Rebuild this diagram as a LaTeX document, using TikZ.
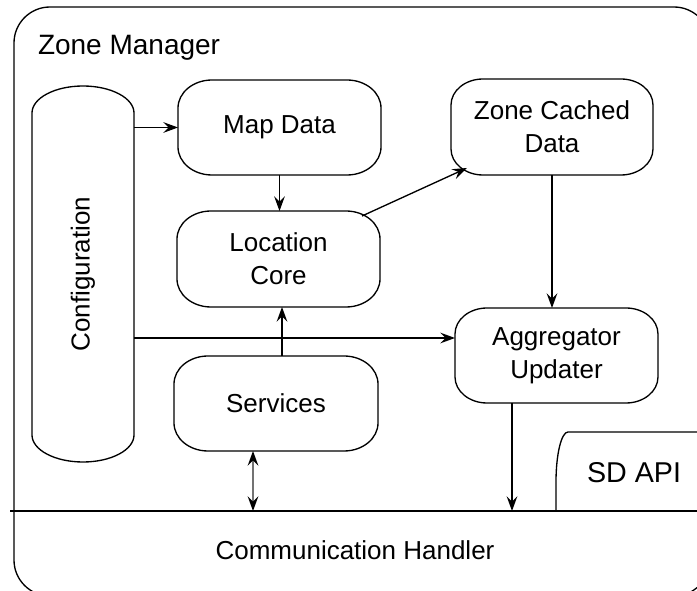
\documentclass[tikz,border=0pt]{standalone}
\usepackage{fontspec}
\setmainfont{Liberation Sans}
\usetikzlibrary{arrows.meta,calc}

\tikzset{
  boxline/.style={draw=black,line width=1pt},
  lbl/.style={font=\fontsize{19.5}{24.5}\selectfont,align=center,inner sep=0pt,outer sep=0pt},
  tip/.style={Stealth[length=11pt,width=8pt,inset=4pt]},
  arr/.style={line width=1pt,-{Stealth[length=11pt,width=8pt,inset=4pt]}},
  dbl/.style={line width=1.2pt,draw=black!55,{Stealth[length=11pt,width=8pt,inset=4pt,black]}-{Stealth[length=11pt,width=8pt,inset=4pt,black]}},
}

% rounded box with elliptical corners: name, x1, y1, x2, y2, rx, ry, text
\newcommand\rrbox[8]{%
  \draw[boxline] (#2,{#3+#7})
    arc[start angle=180,end angle=90,x radius={#6*0.75pt},y radius={#7*0.75pt}]
    -- ({#4-#6},#3)
    arc[start angle=90,end angle=0,x radius={#6*0.75pt},y radius={#7*0.75pt}]
    -- (#4,{#5-#7})
    arc[start angle=0,end angle=-90,x radius={#6*0.75pt},y radius={#7*0.75pt}]
    -- ({#2+#6},#5)
    arc[start angle=270,end angle=180,x radius={#6*0.75pt},y radius={#7*0.75pt}]
    -- cycle;
  \node[lbl,minimum width={(#4-#2)*0.75pt},minimum height={(#5-#3)*0.75pt}]
    (#1) at ({(#2+#4)/2},{(#3+#5)/2}) {#8};
}

\begin{document}
\begin{tikzpicture}[x=0.75pt,y=-0.75pt]
\useasboundingbox (0,0) rectangle (697,591);

% outer Zone Manager frame
\draw[boxline,rounded corners=27pt] (14,7) rectangle (710,596);
\node[lbl,font=\fontsize{21}{25}\selectfont,anchor=base west] (zm) at (38,55) {Zone Manager};

% components
\rrbox{config}{32}{86}{134}{462}{51}{27}{}
\node[lbl,rotate=90] (configlabel) at (config.center) {Configuration};
\rrbox{mapd}{178}{80}{381}{175}{34}{28}{Map Data}
\rrbox{zcd}{451}{79}{653}{175}{32}{26}{Zone Cached\\Data}
\rrbox{lcore}{177}{211}{380}{307}{34}{28}{Location\\Core}
\rrbox{svc}{174}{356}{378}{451}{34}{28}{Services}
\rrbox{agg}{455}{308}{658}{403}{32}{26}{Aggregator\\Updater}

% communication handler strip
\node[lbl,minimum width={690*0.75pt},minimum height={78*0.75pt}] (comm) at (355,550) {Communication Handler};
\draw[boxline] (comm.north west) -- (comm.north east);

% SD API tab
\node[lbl,font=\fontsize{21.5}{25}\selectfont] (sdapi) at (634,473) {SD API};
\draw[boxline] (556,511) -- (556,482)
  arc[start angle=180,end angle=90,x radius={12*0.75pt},y radius={50*0.75pt}]
  -- (705,432);

% connectors
\draw[arr] (config.east |- mapd) -- (mapd.west);
\draw[arr] (mapd.south) -- (mapd.south |- lcore.north);
\draw[arr] ([shift={(-18,5)}]lcore.north east) -- ([shift={(16,-7)}]zcd.south west);
\draw[arr] (zcd.south) -- (zcd.south |- agg.north);
\coordinate (aggin) at ($(agg.west)+(0,-17.5)$);
\draw[arr] (aggin -| config.east) -- (aggin);
\coordinate (svcup) at ($(svc.north)+(6,0)$);
\draw[arr] (svcup) -- (svcup |- lcore.south);
\coordinate (svcdn) at ($(svc.south)+(-23,0)$);
\draw[dbl] (svcdn) -- (svcdn |- comm.north);
\coordinate (aggdn) at ($(agg.south)+(-44.5,0)$);
\draw[arr] (aggdn) -- (aggdn |- comm.north);
\end{tikzpicture}
\end{document}
